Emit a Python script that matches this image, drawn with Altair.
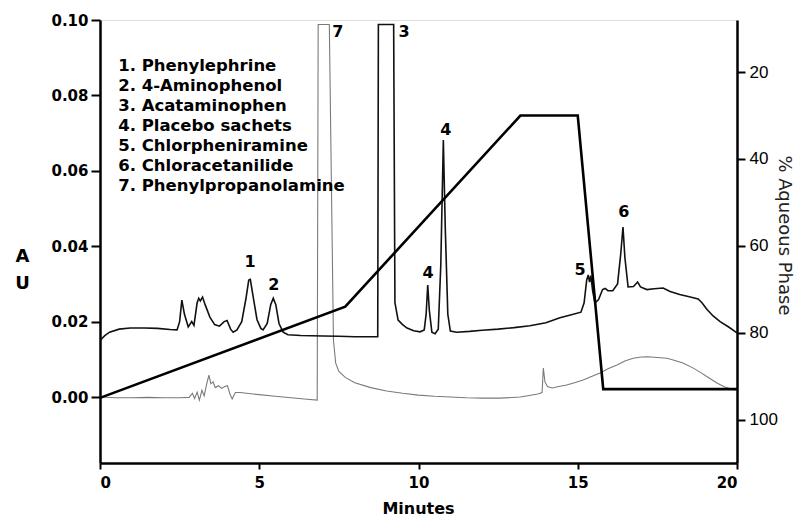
import altair as alt
import pandas as pd

# ---- data ----
sample_t = [0.0, 0.15, 0.3, 0.6, 0.95, 1.4, 1.8, 2.2, 2.42, 2.5, 2.57, 2.65, 2.77, 2.88, 2.95, 3.05, 3.1, 3.15, 3.22, 3.3,
            3.45, 3.6, 3.75, 3.9, 3.99, 4.1, 4.18, 4.3, 4.45, 4.58, 4.67, 4.72, 4.8, 4.93, 5.05, 5.12, 5.25, 5.36, 5.44,
            5.52, 5.62, 5.75, 5.9, 6.3, 7.0, 7.5, 8.0, 8.5, 8.72, 8.74, 9.22, 9.26, 9.36, 9.5, 9.64, 9.85, 10.05, 10.18,
            10.24, 10.29, 10.34, 10.42, 10.52, 10.62, 10.7, 10.78, 10.84, 10.92, 11.0, 11.2, 11.6, 12.0, 12.5, 13.0,
            13.5, 14.0, 14.44, 14.8, 15.1, 15.2, 15.28, 15.33, 15.37, 15.41, 15.47, 15.54, 15.65, 15.78, 15.86, 15.95,
            16.1, 16.25, 16.35, 16.42, 16.48, 16.58, 16.75, 16.88, 16.97, 17.17, 17.4, 17.68, 17.9, 18.2, 18.5, 18.78,
            18.9, 19.06, 19.25, 19.47, 19.75, 20.0]
sample_au = [0.0150, 0.0163, 0.0172, 0.0180, 0.0183, 0.0183, 0.0182, 0.0179, 0.0178, 0.0200, 0.0257, 0.0220, 0.0186,
             0.0200, 0.0190, 0.0250, 0.0262, 0.0255, 0.0265, 0.0245, 0.0212, 0.0192, 0.0188, 0.0200, 0.0203, 0.0180,
             0.0172, 0.0178, 0.0200, 0.0260, 0.0310, 0.0312, 0.0270, 0.0205, 0.0182, 0.0178, 0.0195, 0.0245, 0.0262,
             0.0245, 0.0195, 0.0172, 0.0165, 0.0163, 0.0162, 0.0161, 0.0160, 0.0160, 0.0160, 0.0988, 0.0988, 0.0250,
             0.0204, 0.0192, 0.0183, 0.0176, 0.0173, 0.0178, 0.0220, 0.0297, 0.0230, 0.0172, 0.0168, 0.0180, 0.0350,
             0.0682, 0.0450, 0.0220, 0.0175, 0.0172, 0.0174, 0.0177, 0.0180, 0.0184, 0.0189, 0.0197, 0.0210, 0.0218,
             0.0225, 0.0250, 0.0310, 0.0324, 0.0305, 0.0322, 0.0280, 0.0250, 0.0258, 0.0285, 0.0288, 0.0282, 0.0282,
             0.0300, 0.0380, 0.0451, 0.0370, 0.0292, 0.0293, 0.0305, 0.0292, 0.0285, 0.0287, 0.0289, 0.0280, 0.0272,
             0.0266, 0.0260, 0.0250, 0.0232, 0.0215, 0.0200, 0.0185, 0.0170]

standard_t = [0.0, 0.5, 1.0, 1.5, 2.0, 2.5, 2.8, 2.9, 2.97, 3.05, 3.12, 3.2, 3.27, 3.35, 3.42, 3.48, 3.55, 3.62, 3.72,
              3.82, 3.92, 4.0, 4.08, 4.15, 4.25, 4.4, 4.8, 5.5, 6.0, 6.5, 6.82, 6.85, 7.2, 7.33, 7.4, 7.5, 7.7, 8.0,
              8.5, 9.0, 9.5, 10.0, 10.5, 11.0, 11.5, 12.0, 12.56, 13.2, 13.75, 13.88, 13.92, 13.97, 14.05, 14.2, 14.4,
              14.65, 14.9, 15.17, 15.45, 15.7, 15.95, 16.23, 16.5, 16.74, 17.0, 17.2, 17.5, 17.8, 18.05, 18.3, 18.6,
              18.84, 19.1, 19.37, 19.6, 19.87, 20.0]
standard_au = [0.0, -0.0002, -0.0002, -0.0001, -0.0002, -0.0002, -0.0001, 0.0010, -0.0004, 0.0013, -0.0008, 0.0018,
               0.0003, 0.0035, 0.0058, 0.0035, 0.0040, 0.0025, 0.0030, 0.0023, 0.0028, 0.0030, 0.0008, -0.0005, 0.0012,
               0.0012, 0.0008, 0.0002, -0.0002, -0.0006, -0.0008, 0.0988, 0.0988, 0.0150, 0.0090, 0.0068, 0.0052,
               0.0038, 0.0025, 0.0016, 0.0010, 0.0005, 0.0002, 0.0, -0.0002, -0.0003, -0.0003, 0.0, 0.0008, 0.0012,
               0.0077, 0.0040, 0.0028, 0.0024, 0.0028, 0.0032, 0.0038, 0.0045, 0.0055, 0.0064, 0.0075, 0.0085, 0.0096,
               0.0103, 0.0106, 0.0107, 0.0105, 0.0103, 0.0097, 0.0090, 0.0078, 0.0066, 0.0052, 0.0037, 0.0027, 0.0020,
               0.0019]

gradient_t = [0.0, 7.7, 13.2, 15.0, 15.8, 20.0]
gradient_pct = [95, 74, 30, 30, 93, 93]

peak_label = ["1", "2", "7", "3", "4", "4", "5", "6"]
peak_label_t = [4.71, 5.46, 7.47, 9.55, 10.3, 10.86, 15.07, 16.45]
peak_label_au = [0.0358, 0.0297, 0.0968, 0.0968, 0.0329, 0.0708, 0.0337, 0.0491]

compounds = ["1. Phenylephrine", "2. 4-Aminophenol", "3. Acataminophen", "4. Placebo sachets",
             "5. Chlorpheniramine", "6. Chloracetanilide", "7. Phenylpropanolamine"]

x_ticks = [0, 5, 10, 15, 20]
au_ticks = [0.0, 0.02, 0.04, 0.06, 0.08, 0.10]
pct_ticks = [20, 40, 60, 80, 100]

# ---- frames ----
sample_df = pd.DataFrame({"t": sample_t, "au": sample_au, "i": range(len(sample_t))})
standard_df = pd.DataFrame({"t": standard_t, "au": standard_au, "i": range(len(standard_t))})
grad_df = pd.DataFrame({"t": gradient_t, "pct": gradient_pct, "i": range(len(gradient_t))})
lab_df = pd.DataFrame({"lab": peak_label, "t": peak_label_t, "au": peak_label_au})
leg_df = pd.DataFrame({"name": compounds,
                       "t": [0.57] * len(compounds),
                       "au": [0.0878 - k * 0.0053 for k in range(len(compounds))]})

FONT = "DejaVu Sans"
xs = alt.Scale(domain=[0, 20], nice=False, zero=False)
ys = alt.Scale(domain=[-0.0175, 0.10], nice=False, zero=False)

x_axis = alt.Axis(values=x_ticks, format="d", title="Minutes", grid=False, tickSize=6,
                  tickColor="black", tickWidth=2, domainColor="black", domainWidth=2.5,
                  labelFont=FONT, labelFontWeight="bold", labelFontSize=15, labelColor="black",
                  labelPadding=6, titleFont=FONT, titleFontWeight="bold", titleFontSize=16,
                  titleColor="black", titleX=318, titleY=50, titleBaseline="alphabetic")
y_axis = alt.Axis(values=au_ticks, format=".2f", title=["A", "U"], grid=False, tickSize=9,
                  tickColor="black", tickWidth=2, domainColor="black", domainWidth=2.5,
                  labelFont=FONT, labelFontWeight="bold", labelFontSize=15, labelColor="black",
                  labelPadding=3, titleFont=FONT, titleFontWeight="bold", titleFontSize=18,
                  titleColor="black", titleAngle=0, titleX=-78, titleY=241, titleAlign="center",
                  titleBaseline="alphabetic", titleLineHeight=27)

standard = alt.Chart(standard_df).mark_line(color="#7a7a7a", strokeWidth=1.1).encode(
    x=alt.X("t:Q", scale=xs, axis=x_axis),
    y=alt.Y("au:Q", scale=ys, axis=y_axis),
    order="i:Q")
sample = alt.Chart(sample_df).mark_line(color="#111111", strokeWidth=1.6).encode(
    x=alt.X("t:Q", scale=xs), y=alt.Y("au:Q", scale=ys), order="i:Q")
labels = alt.Chart(lab_df).mark_text(font=FONT, fontSize=16, fontWeight="bold", color="black",
                                     baseline="middle", align="center").encode(
    x=alt.X("t:Q", scale=xs), y=alt.Y("au:Q", scale=ys), text="lab:N")
legend = alt.Chart(leg_df).mark_text(font=FONT, fontSize=16.5, fontWeight="bold", color="black",
                                     baseline="middle", align="left").encode(
    x=alt.X("t:Q", scale=xs), y=alt.Y("au:Q", scale=ys), text="name:N")

left = alt.layer(standard, sample, labels, legend)

grad = alt.Chart(grad_df).mark_line(color="black", strokeWidth=2.6).encode(
    x=alt.X("t:Q", scale=xs),
    y=alt.Y("pct:Q", scale=alt.Scale(domain=[8, 110], nice=False, zero=False, reverse=True),
            axis=alt.Axis(orient="right", values=pct_ticks, title="% Aqueous Phase", grid=False,
                          tickSize=8, tickColor="black", tickWidth=2, domainColor="black",
                          domainWidth=2.5, labelFont="Liberation Sans", labelFontSize=17,
                          labelColor="black", labelPadding=4, titleFont="DejaVu Sans",
                          titleFontWeight="normal", titleFontSize=18, titleColor="#222222",
                          titleAngle=90, titleX=46, titleY=215, titleAlign="center",
                          titleBaseline="middle")),
    order="i:Q")

chart = alt.layer(left, grad).resolve_scale(y="independent").properties(
    width=637, height=443,
    autosize=alt.AutoSizeParams(type="none"),
    padding={"left": 92, "top": 12, "right": 57, "bottom": 54},
).configure_view(stroke="black", strokeWidth=2.5).configure(background="white")

chart.save("out.html", embed_options={"renderer": "svg", "actions": False})
